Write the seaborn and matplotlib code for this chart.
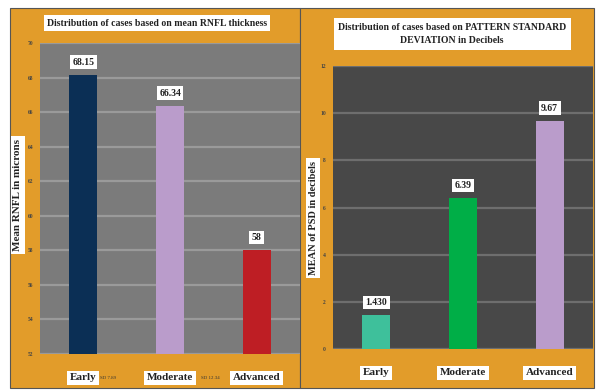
import matplotlib
matplotlib.use("Agg")
import matplotlib.pyplot as plt
import seaborn as sns
import pandas as pd
from matplotlib.patches import Rectangle

stages = ["Early", "Moderate", "Advanced"]
rnfl_mean = [68.15, 66.34, 58]
rnfl_labels = ["68.15", "66.34", "58"]
rnfl_sd = ["SD 7.89", "SD 12.34", ""]
psd_mean = [1.43, 6.39, 9.67]
psd_labels = ["1.430", "6.39", "9.67"]
rnfl_ticks = [52, 54, 56, 58, 60, 62, 64, 66, 68, 70]
psd_ticks = [0, 2, 4, 6, 8, 10, 12]

rnfl_colors = ["#0B2F55", "#BA9CCB", "#BE1E24"]
psd_colors = ["#3EC09B", "#00AE47", "#BA9CCB"]
ORANGE = "#E29C2A"

sns.set_theme(style="white")
plt.rcParams["font.family"] = ["Liberation Serif", "DejaVu Serif"]

W, H = 604, 391
fig = plt.figure(figsize=(W / 100, H / 100), dpi=100)
fig.patch.set_facecolor("white")

def fx(x):
    return x / W

def fy(y):
    return 1 - y / H

# orange panels
fig.add_artist(Rectangle((fx(10), fy(388)), fx(290), 380 / H, transform=fig.transFigure,
                         facecolor=ORANGE, edgecolor="#555555", lw=0.8, zorder=0))
fig.add_artist(Rectangle((fx(300), fy(388)), fx(294), 380 / H, transform=fig.transFigure,
                         facecolor=ORANGE, edgecolor="#555555", lw=0.8, zorder=0))

box = dict(boxstyle="square,pad=0.25", facecolor="white", edgecolor="none")

def make_panel(rect, values, labels, colors, ticks, bg, grid, ylim):
    ax = fig.add_axes(rect)
    df = pd.DataFrame({"stage": stages, "value": values})
    sns.barplot(data=df, x="stage", y="value", hue="stage", palette=colors,
                legend=False, width=0.32, ax=ax, saturation=1, linewidth=0,
                edgecolor="none")
    ax.set_facecolor(bg)
    ax.set_xlim(-0.5, 2.5)
    ax.set_ylim(*ylim)
    ax.set_yticks(ticks)
    ax.set_yticklabels([str(t) for t in ticks], fontsize=4, color="#444444", fontweight="bold")
    ax.tick_params(axis="y", length=0, pad=5)
    ax.tick_params(axis="x", length=0, pad=14)
    ax.yaxis.grid(True, color=grid, lw=1.6)
    ax.set_axisbelow(True)
    for s in ax.spines.values():
        s.set_visible(False)
    ax.set_xlabel("")
    ax.set_ylabel("")
    ax.set_xticks(range(3))
    ax.set_xticklabels(stages, fontsize=8, fontweight="bold", color="#222222")
    for t in ax.get_xticklabels():
        t.set_bbox(box)
    for i, (v, lab) in enumerate(zip(values, labels)):
        ax.annotate(lab, (i, v), xytext=(0, 6), textcoords="offset points",
                    ha="center", va="bottom", fontsize=7, fontweight="bold",
                    color="#222222", bbox=box)
    return ax

ax1 = make_panel([fx(40), fy(354), fx(260), 311 / H], rnfl_mean, rnfl_labels, rnfl_colors,
                 rnfl_ticks, "#7B7B7B", "#9A9A9A", (52, 70))
ax2 = make_panel([fx(333), fy(349), fx(260), 283 / H], psd_mean, psd_labels, psd_colors,
                 psd_ticks, "#484848", "#6E6E6E", (0, 12))

# small SD notes next to x labels
for i, sd in enumerate(rnfl_sd):
    if sd:
        dx = 12 if i == 0 else 22
        ax1.annotate(sd, (i, 0), xycoords=("data", "axes fraction"), xytext=(dx, -17),
                     textcoords="offset points", ha="left", va="center",
                     fontsize=3.5, color="#333333")

fig.text(fx(157), fy(23), "Distribution of cases based on mean RNFL thickness",
         ha="center", va="center", fontsize=7, fontweight="bold", color="#222222",
         bbox=dict(boxstyle="square,pad=0.35", facecolor="white", edgecolor="none"))
fig.text(fx(452), fy(34), "Distribution of cases based on PATTERN STANDARD\nDEVIATION in Decibels",
         ha="center", va="center", fontsize=7, fontweight="bold", color="#222222",
         linespacing=1.7,
         bbox=dict(boxstyle="square,pad=0.45", facecolor="white", edgecolor="none"))

fig.text(fx(18), fy(195), "Mean RNFL in microns", rotation=90, ha="center", va="center",
         fontsize=8, fontweight="bold", color="#222222", bbox=box)
fig.text(fx(313), fy(218), "MEAN of PSD in decibels", rotation=90, ha="center", va="center",
         fontsize=7.5, fontweight="bold", color="#222222", bbox=box)

fig.savefig("out.png", dpi=100, facecolor="white")
